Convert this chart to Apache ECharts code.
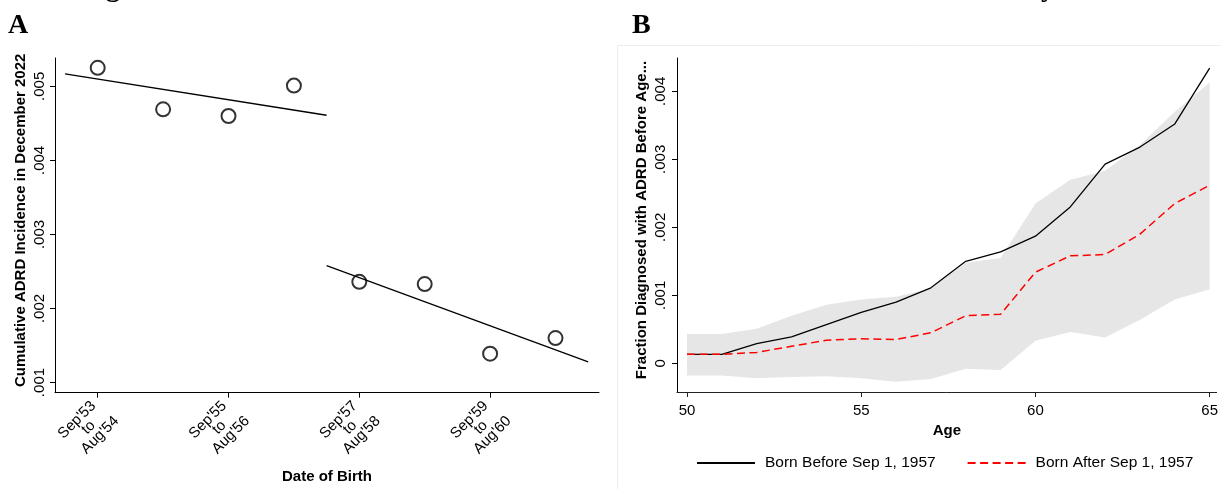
<!DOCTYPE html>
<html>
<head>
<meta charset="utf-8">
<script src="https://cdn.jsdelivr.net/npm/echarts@6/dist/echarts.min.js"></script>
<style>
  html, body { margin: 0; padding: 0; background: #ffffff; }
  #chart { width: 1221px; height: 489px; }
</style>
</head>
<body>
<div id="chart"></div>
<script>
// ---------- Panel A data ----------
const cohortYears = [1953, 1954, 1955, 1956, 1957, 1958, 1959, 1960];
const incidence = [0.00525, 0.00469, 0.00460, 0.00501, 0.00236, 0.00233, 0.00139, 0.00160];
const fitBeforeX = [1952.5, 1956.5];
const fitBeforeY = [0.00517, 0.00461];
const fitAfterX = [1956.5, 1960.5];
const fitAfterY = [0.00258, 0.00128];
const cohortTickYears = [1953, 1955, 1957, 1959];
const cohortTickLabels = [["Sep'53", "to", "Aug'54"], ["Sep'55", "to", "Aug'56"], ["Sep'57", "to", "Aug'58"], ["Sep'59", "to", "Aug'60"]];
const incidenceTicks = [0.001, 0.002, 0.003, 0.004, 0.005];

// ---------- Panel B data ----------
const ages = [50, 51, 52, 53, 54, 55, 56, 57, 58, 59, 60, 61, 62, 63, 64, 65];
const bornBefore = [0.000132, 0.000132, 0.00029, 0.00039, 0.00057, 0.00075, 0.00090, 0.00111, 0.00150, 0.00164, 0.00187, 0.00230, 0.00293, 0.00318, 0.00352, 0.00434];
const bornAfter = [0.000132, 0.000132, 0.00016, 0.00025, 0.00034, 0.00036, 0.00035, 0.00045, 0.00070, 0.00072, 0.00134, 0.00158, 0.00160, 0.00190, 0.00235, 0.00262];
const ciUpper = [0.00043, 0.00043, 0.00051, 0.00070, 0.00086, 0.00094, 0.00098, 0.00110, 0.00148, 0.00155, 0.00235, 0.00270, 0.00283, 0.00321, 0.00370, 0.00413];
const ciLower = [-0.00018, -0.00018, -0.00022, -0.00020, -0.00019, -0.00022, -0.00027, -0.00023, -0.00008, -0.00010, 0.00033, 0.00046, 0.00038, 0.00064, 0.00094, 0.00109];
const ageTicks = [50, 55, 60, 65];
const fractionTicks = [0, 0.001, 0.002, 0.003, 0.004];

const FONT = "'Liberation Sans', Arial, Helvetica, sans-serif";
const SERIF = "'Liberation Serif', 'Times New Roman', serif";

function decFmt(v) {
  if (Math.abs(v) < 1e-12) return '0';
  return v.toFixed(3).replace(/^0/, '');
}
function pairs(xs, ys) { return xs.map((x, i) => [x, ys[i]]); }

const chart = echarts.init(document.getElementById('chart'), null, { renderer: 'canvas' });

const option = {
  animation: false,
  backgroundColor: '#ffffff',
  textStyle: { fontFamily: FONT },
  grid: [
    { left: 55, top: 58, width: 544, height: 339 },
    { left: 677, top: 58, width: 540, height: 334 }
  ],
  xAxis: [
    {
      gridIndex: 0, type: 'value',
      min: 1952.347, max: 1960.665,
      name: 'Date of Birth', nameLocation: 'middle', nameGap: 65,
      nameTextStyle: { fontFamily: FONT, fontSize: 15, fontWeight: 'bold', color: '#000' },
      axisLine: { show: true, onZero: false, lineStyle: { color: '#000', width: 1 } },
      axisTick: { show: true, length: 5, customValues: cohortTickYears, lineStyle: { color: '#000' } },
      splitLine: { show: false },
      axisLabel: {
        customValues: cohortTickYears,
        rotate: 45, margin: -3, align: 'right', verticalAlign: 'top',
        color: '#000', fontFamily: FONT, fontSize: 15, lineHeight: 13.5,
        formatter: function (v) {
          const i = cohortTickYears.indexOf(Math.round(v));
          if (i < 0) return '';
          const l = cohortTickLabels[i];
          return '{a|' + l[0] + '}\n{b|' + l[1] + '}\n{c|' + l[2] + '}';
        },
        rich: {
          a: { width: 50, align: 'center', padding: [0, 11, 0, 0], fontFamily: FONT, fontSize: 15, lineHeight: 13.5, color: '#000' },
          b: { width: 50, align: 'center', padding: [0, 5.5, 0, 0], fontFamily: FONT, fontSize: 15, lineHeight: 13.5, color: '#000' },
          c: { width: 50, align: 'center', padding: [0, 0, 0, 0], fontFamily: FONT, fontSize: 15, lineHeight: 13.5, color: '#000' }
        }
      }
    },
    {
      gridIndex: 1, type: 'value',
      min: 49.713, max: 65.2,
      name: 'Age', nameLocation: 'middle', nameGap: 29,
      nameTextStyle: { fontFamily: FONT, fontSize: 15, fontWeight: 'bold', color: '#000' },
      axisLine: { show: true, onZero: false, lineStyle: { color: '#222', width: 1 } },
      axisTick: { show: true, length: 5, customValues: ageTicks, lineStyle: { color: '#222' } },
      splitLine: { show: false },
      axisLabel: {
        customValues: ageTicks, margin: 11,
        color: '#000', fontFamily: FONT, fontSize: 15,
        formatter: function (v) { return String(Math.round(v)); }
      }
    }
  ],
  yAxis: [
    {
      gridIndex: 0, type: 'value',
      min: 0.000863, max: 0.005383,
      name: 'Cumulative ADRD Incidence in December 2022', nameLocation: 'middle', nameGap: 27,
      nameTextStyle: { fontFamily: FONT, fontSize: 15, fontWeight: 'bold', color: '#000', padding: [0, 0, 0, 10] },
      axisLine: { show: true, onZero: false, lineStyle: { color: '#000', width: 1 } },
      axisTick: { show: true, length: 5, customValues: incidenceTicks, lineStyle: { color: '#000' } },
      splitLine: { show: false },
      axisLabel: {
        customValues: incidenceTicks, rotate: 90, margin: 8,
        color: '#000', fontFamily: FONT, fontSize: 15,
        formatter: decFmt
      }
    },
    {
      gridIndex: 1, type: 'value',
      min: -0.000422, max: 0.00449,
      name: 'Fraction Diagnosed with ADRD Before Age...', nameLocation: 'middle', nameGap: 28,
      nameTextStyle: { fontFamily: FONT, fontSize: 15, fontWeight: 'bold', color: '#000', padding: [0, 0, 0, 10] },
      axisLine: { show: true, onZero: false, lineStyle: { color: '#000', width: 1 } },
      axisTick: { show: true, length: 5, customValues: fractionTicks, lineStyle: { color: '#000' } },
      splitLine: { show: false },
      axisLabel: {
        customValues: fractionTicks, rotate: 90, margin: 9,
        color: '#000', fontFamily: FONT, fontSize: 15,
        formatter: decFmt
      }
    }
  ],
  legend: {
    data: ['Born Before Sep 1, 1957', 'Born After Sep 1, 1957'],
    left: 691, top: 450,
    itemWidth: 58, itemHeight: 14, itemGap: 31,
    itemStyle: { opacity: 0 },
    textStyle: { fontFamily: FONT, fontSize: 15.5, color: '#000', padding: [0, 0, 0, 5] }
  },
  series: [
    // Panel A
    {
      name: 'fitBefore', type: 'line', xAxisIndex: 0, yAxisIndex: 0,
      data: pairs(fitBeforeX, fitBeforeY), symbol: 'none',
      lineStyle: { color: '#000', width: 1.3 }, silent: true
    },
    {
      name: 'fitAfter', type: 'line', xAxisIndex: 0, yAxisIndex: 0,
      data: pairs(fitAfterX, fitAfterY), symbol: 'none',
      lineStyle: { color: '#000', width: 1.3 }, silent: true
    },
    {
      name: 'incidence', type: 'scatter', xAxisIndex: 0, yAxisIndex: 0,
      data: pairs(cohortYears, incidence),
      symbol: 'circle', symbolSize: 14,
      itemStyle: { color: 'rgba(255,255,255,0)', borderColor: '#000', borderWidth: 2 }
    },
    // Panel B confidence band (drawn through the axes' coordinate system)
    {
      name: 'ciBand', type: 'custom', xAxisIndex: 1, yAxisIndex: 1,
      data: ages.map((a, i) => [a, ciLower[i], ciUpper[i]]),
      encode: { x: 0, y: [1, 2] },
      silent: true, z: 1,
      renderItem: function (params, api) {
        if (params.dataIndex !== 0) return null;
        const pts = [];
        for (let i = 0; i < ages.length; i++) pts.push(api.coord([ages[i], ciUpper[i]]));
        for (let i = ages.length - 1; i >= 0; i--) pts.push(api.coord([ages[i], ciLower[i]]));
        return { type: 'polygon', shape: { points: pts }, style: { fill: '#e6e6e6', stroke: 'none' } };
      }
    },
    {
      name: 'Born Before Sep 1, 1957', type: 'line', xAxisIndex: 1, yAxisIndex: 1,
      data: pairs(ages, bornBefore), symbol: 'none', z: 3,
      lineStyle: { color: '#000', width: 1.3 }, itemStyle: { color: '#000' }
    },
    {
      name: 'Born After Sep 1, 1957', type: 'line', xAxisIndex: 1, yAxisIndex: 1,
      data: pairs(ages, bornAfter), symbol: 'none', z: 3,
      lineStyle: { color: '#ff0000', width: 1.5, type: [8, 4.5] }, itemStyle: { color: '#ff0000' }
    }
  ],
  graphic: [
    { type: 'rect', left: 615, top: 43, silent: true, z: -10,
      shape: { width: 640, height: 480 }, style: { fill: 'none', stroke: '#e9efef', lineWidth: 1 } },
    { type: 'text', left: 8, top: 12, silent: true,
      style: { text: 'A', font: 'bold 28px ' + SERIF, fill: '#000' } },
    { type: 'text', left: 632, top: 12, silent: true,
      style: { text: 'B', font: 'bold 28px ' + SERIF, fill: '#000' } },
    { type: 'text', left: 106, top: -25, silent: true,
      style: { text: 'g', font: 'bold 28px ' + SERIF, fill: '#000' } },
    { type: 'text', left: 1041, top: -25, silent: true,
      style: { text: 'y', font: 'bold 28px ' + SERIF, fill: '#000' } }
  ]
};

chart.setOption(option);
</script>
</body>
</html>
